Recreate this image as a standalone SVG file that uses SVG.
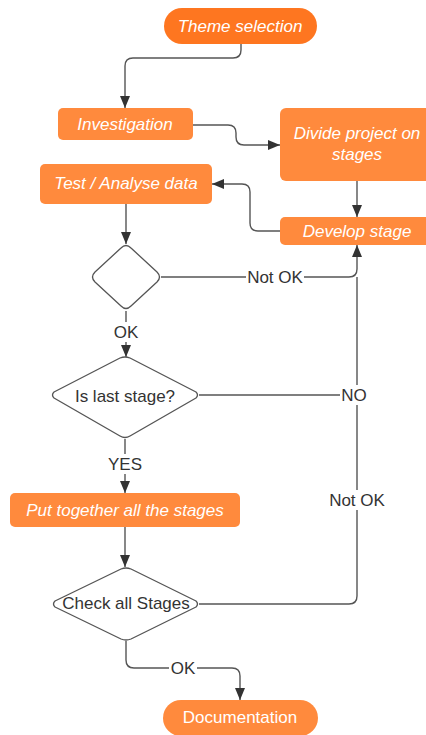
<svg xmlns="http://www.w3.org/2000/svg" width="426" height="735" viewBox="0 0 426 735">
  <defs>
    <marker id="arrow" viewBox="0 0 12 10" refX="12" refY="5" markerWidth="12" markerHeight="10" markerUnits="userSpaceOnUse" orient="auto">
      <path d="M0,0 L12,5 L0,10 Z" fill="#333"/>
    </marker>
    <style>
      .box { fill: #ff8a3d; }
      .start { fill: #fe7620; }
      .btxt { font-family: "Liberation Sans", Arial, sans-serif; font-size: 17px; font-style: italic; fill: #ffffff; text-anchor: middle; dominant-baseline: central; }
      .ntxt { font-family: "Liberation Sans", Arial, sans-serif; font-size: 17px; fill: #ffffff; text-anchor: middle; dominant-baseline: central; }
      .dec { fill: #ffffff; stroke: #555; stroke-width: 1.3; stroke-linejoin: round; }
      .dtxt { font-family: "Liberation Sans", Arial, sans-serif; font-size: 17px; fill: #333; text-anchor: middle; dominant-baseline: central; }
      .edge { fill: none; stroke: #555; stroke-width: 1.4; }
      .arr { marker-end: url(#arrow); }
      .lbg { fill: #ffffff; }
      .ltxt { font-family: "Liberation Sans", Arial, sans-serif; font-size: 17px; fill: #333; text-anchor: middle; dominant-baseline: central; }
    </style>
  </defs>
  <rect width="426" height="735" fill="#ffffff"/>

  <!-- connectors -->
  <g id="connectors">
    <path class="edge arr" d="M241,44 V50 Q241,58 233,58 H133 Q125,58 125,66 V108"/>
    <path class="edge arr" d="M193,125 H228 Q236,125 236,133 V137 Q236,145 244,145 H280"/>
    <path class="edge arr" d="M357,181 V217"/>
    <path class="edge arr" d="M280,231 H258 Q250,231 250,223 V192 Q250,184 242,184 H212"/>
    <path class="edge arr" d="M126,204 V244"/>
    <path class="edge arr" d="M161,277 H349 Q357,277 357,269 V245"/>
    <path class="edge arr" d="M126,311 V357"/>
    <path class="edge" d="M199,395 H357"/>
    <path class="edge arr" d="M125,439 V493"/>
    <path class="edge arr" d="M125,527 V567"/>
    <path class="edge" d="M199,604 H349 Q357,604 357,596 V277"/>
    <path class="edge arr" d="M126,641 V660 Q126,668 134,668 H232 Q240,668 240,676 V700"/>

    <!-- edge labels -->
    <rect class="lbg" x="246" y="267" width="58" height="20"/>
    <text class="ltxt" x="275" y="277">Not OK</text>
    <rect class="lbg" x="112" y="322" width="28" height="20"/>
    <text class="ltxt" x="126" y="332">OK</text>
    <rect class="lbg" x="340" y="385" width="30" height="20"/>
    <text class="ltxt" x="354" y="395">NO</text>
    <rect class="lbg" x="106" y="454" width="38" height="20"/>
    <text class="ltxt" x="125" y="464">YES</text>
    <rect class="lbg" x="328" y="490" width="58" height="20"/>
    <text class="ltxt" x="357" y="500">Not OK</text>
    <rect class="lbg" x="169" y="658" width="28" height="20"/>
    <text class="ltxt" x="183" y="668">OK</text>
  </g>

  <g id="theme-selection">
    <rect class="start" x="164" y="8" width="153" height="36" rx="18"/>
    <text class="btxt" x="240" y="26">Theme selection</text>
  </g>

  <g id="investigation">
    <rect class="box" x="58" y="108" width="135" height="32" rx="5"/>
    <text class="btxt" x="125" y="124">Investigation</text>
  </g>

  <g id="divide-project">
    <rect class="box" x="280" y="108" width="154" height="73" rx="6"/>
    <text class="btxt" x="357" y="133">Divide project on</text>
    <text class="btxt" x="357" y="154">stages</text>
  </g>

  <g id="develop-stage">
    <rect class="box" x="280" y="217" width="154" height="28" rx="5"/>
    <text class="btxt" x="357" y="231">Develop stage</text>
  </g>

  <g id="test-analyse">
    <rect class="box" x="40" y="164" width="172" height="40" rx="5"/>
    <text class="btxt" x="126" y="183">Test / Analyse data</text>
  </g>

  <g id="test-ok">
    <path class="dec" d="M121,248 Q126,243 131,248 L157,272 Q162,277 157,282 L131,306 Q126,311 121,306 L95,282 Q90,277 95,272 Z"/>
  </g>

  <g id="is-last-stage">
    <path class="dec" d="M120,358 Q125,356 130,358 L196,392 Q199,395 196,398 L130,436 Q125,439 120,436 L54,398 Q51,395 54,392 Z"/>
    <text class="dtxt" x="125" y="396">Is last stage?</text>
  </g>

  <g id="put-together">
    <rect class="box" x="10" y="493" width="230" height="34" rx="5"/>
    <text class="btxt" x="125" y="510">Put together all the stages</text>
  </g>

  <g id="check-stages">
    <path class="dec" d="M121,569 Q126,567 131,569 L196,601 Q199,604 196,607 L131,639 Q126,641 121,639 L55,607 Q52,604 55,601 Z"/>
    <text class="dtxt" x="126" y="603">Check all Stages</text>
  </g>

  <g id="documentation">
    <rect class="box" x="163" y="700" width="155" height="36" rx="18"/>
    <text class="ntxt" x="240" y="717">Documentation</text>
  </g>
</svg>
